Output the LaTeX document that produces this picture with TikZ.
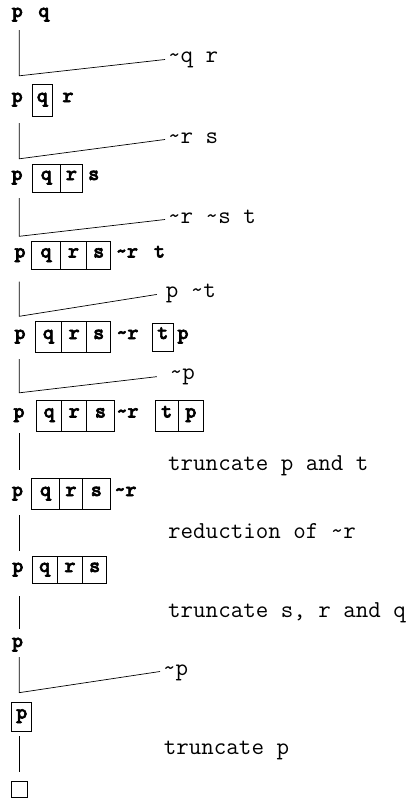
\documentclass[tikz,border=0pt]{standalone}
\usepackage{fontspec}
\usepackage{tikz}

\newfontfamily\chainfam{lmmonolt10-bold.otf}[FakeBold=3]
\newcommand{\chainfont}{\chainfam\fontsize{21}{24}\selectfont}
\newcommand{\notefont}{\ttfamily\fontsize{24.3}{28}\selectfont}
\newcommand{\tld}{\textasciitilde}

\tikzset{
  sym/.style={font=\chainfont, inner sep=0pt, text height=8pt, text depth=4pt, anchor=base},
  cell/.style={sym, draw, line width=0.7pt, minimum width=#1},
  cell/.default=26,
  note/.style={font=\notefont, anchor=base west, inner xsep=3pt, inner ysep=0pt, text height=7pt, text depth=0pt},
  link/.style={draw, line width=0.7pt},
}

\begin{document}
\begin{tikzpicture}[x=1pt, y=-1pt]
\useasboundingbox (0,0) rectangle (413,800);
\coordinate (spine) at (19.3,0);

% chain 1
\node[sym] (r1-p) at (17.3,17) {p};
\node[sym] (r1-q) at (43.8,17) {q};

% chain 2
\begin{scope}[minimum height=32]
\node[sym] (r2-p) at (17.2,102) {p};
\node[cell=20] (r2-q) at (42.3,102) {q};
\node[sym] (r2-r) at (68,102) {r};
\end{scope}

% chain 3
\begin{scope}[minimum height=28]
\node[sym] (r3-p) at (17,180) {p};
\node[cell=28] (r3-q) at (46.3,180) {q};
\node[cell=22.4] (r3-r) at (71.5,180) {r};
\node[sym] (r3-s) at (93.8,180) {s};
\end{scope}

% chain 4
\begin{scope}[minimum height=28]
\node[sym] (r4-p) at (20,257.5) {p};
\node[cell=28.6] (r4-q) at (46,257.5) {q};
\node[cell=26.4] (r4-r) at (73.5,257.5) {r};
\node[cell=24] (r4-s) at (98.7,257.5) {s};
\node[sym] (r4-nr) at (127,257.5) {\tld r};
\node[sym] (r4-t) at (159.5,257.5) {t};
\end{scope}

% chain 5
\begin{scope}[minimum height=31]
\node[sym] (r5-p) at (20,339) {p};
\node[cell=26.7] (r5-q) at (48.35,339) {q};
\node[cell=25] (r5-r) at (74.2,339) {r};
\node[cell=24] (r5-s) at (98.7,339) {s};
\node[sym] (r5-nr) at (127.5,339) {\tld r};
\node[cell=21, minimum height=28] (r5-t) at (162.8,339) {t};
\node[sym] (r5-p2) at (183,339) {p};
\end{scope}

% chain 6
\begin{scope}[minimum height=31]
\node[sym] (r6-p) at (19,417.5) {p};
\node[cell=25] (r6-q) at (49.2,417.5) {q};
\node[cell=25] (r6-r) at (74.2,417.5) {r};
\node[cell=27.6] (r6-s) at (100.5,417.5) {s};
\node[sym] (r6-nr) at (127.5,417.5) {\tld r};
\node[cell=23.3] (r6-t) at (166.65,417.5) {t};
\node[cell=25] (r6-p2) at (190.8,417.5) {p};
\end{scope}

% chain 7
\begin{scope}[minimum height=31]
\node[sym] (r7-p) at (17.5,496) {p};
\node[cell=27.6] (r7-q) at (45.5,496) {q};
\node[cell=23.4] (r7-r) at (71,496) {r};
\node[cell=27.3] (r7-s) at (96.35,496) {s};
\node[sym] (r7-nr) at (125.5,496) {\tld r};
\end{scope}

% chain 8
\begin{scope}[minimum height=27]
\node[sym] (r8-p) at (17.8,572) {p};
\node[cell=25.3] (r8-q) at (44.65,572) {q};
\node[cell=25.4] (r8-r) at (70,572) {r};
\node[cell=24] (r8-s) at (94.7,572) {s};
\end{scope}

% chain 9, 10 and the empty clause
\node[sym] (r9-p) at (17.5,647) {p};
\node[cell=20, minimum height=29] (r10-p) at (21.7,718.5) {p};
\node[draw, line width=0.7pt, minimum size=16pt, inner sep=0pt] (r11) at (19.7,789.3) {};

% side clauses and steps
\node[note] (l1) at (165,63) {\tld q r};
\node[note] (l2) at (165,143) {\tld r s};
\node[note] (l3) at (165,223) {\tld r \tld s t};
\node[note] (l4) at (162.7,297) {p \tld t};
\node[note] (l5) at (166.7,379) {\tld p};
\node[note] (l6) at (165,470.7) {truncate p and t};
\node[note] (l7) at (165,538) {reduction of \tld r};
\node[note] (l8) at (165,617) {truncate s, r and q};
\node[note] (l9) at (160,675) {\tld p};
\node[note] (l10) at (160.7,754) {truncate p};

% extensions
\draw[link] ([yshift=-9pt]spine |- r1-p.south) -- ([yshift=8pt]spine |- r2-p.north) -- (l1.west);
\draw[link] ([yshift=-7pt]spine |- r2-p.south) -- ([yshift=5pt]spine |- r3-p.north) -- (l2.west);
\draw[link] ([yshift=-6pt]spine |- r3-p.south) -- ([yshift=5pt]spine |- r4-p.north) -- (l3.west);
\draw[link, shorten >=6pt] ([yshift=-12pt]spine |- r4-p.south) -- ([yshift=5pt]spine |- r5-p.north) -- (l4.west);
\draw[link, shorten >=10pt] ([yshift=-6.5pt]spine |- r5-p.south) -- ([yshift=7pt]spine |- r6-p.north) -- (l5.west);
\draw[link] ([yshift=-6pt]spine |- r9-p.south) -- ([yshift=9pt]spine |- r10-p.north) -- (l9.west);

% truncation and reduction steps
\draw[link] ([yshift=-2pt]spine |- r6-p.south) -- ([yshift=8.5pt]spine |- r7-p.north);
\draw[link] ([yshift=-5.5pt]spine |- r7-p.south) -- ([yshift=5pt]spine |- r8-p.north);
\draw[link] ([yshift=-12.5pt]spine |- r8-p.south) -- ([yshift=10pt]spine |- r9-p.north);
\draw[link] ([yshift=-5pt]spine |- r10-p.south) -- ([yshift=9pt]spine |- r11.north);
\end{tikzpicture}
\end{document}
